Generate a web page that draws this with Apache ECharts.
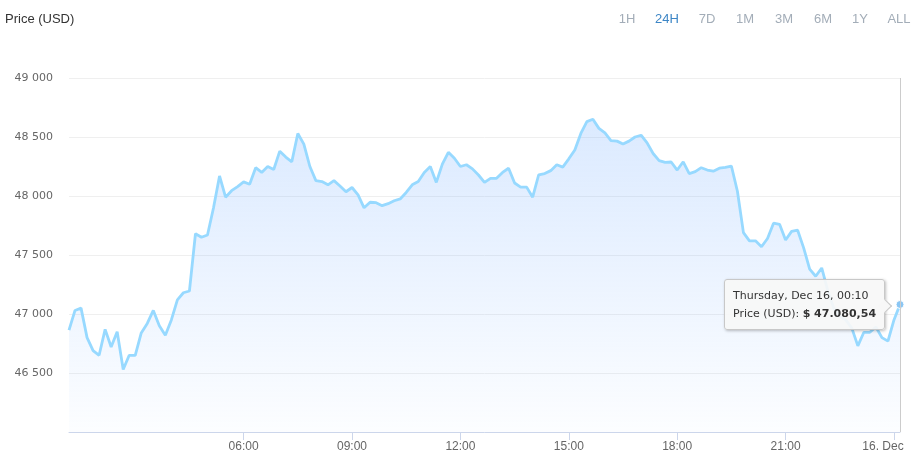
<!DOCTYPE html>
<html>
<head>
<meta charset="utf-8">
<title>Price (USD)</title>
<script src="https://cdn.jsdelivr.net/npm/echarts@6/dist/echarts.min.js"></script>
<style>
  html, body { margin: 0; padding: 0; background: #fff; }
  #chart { width: 917px; height: 471px; }
</style>
</head>
<body>
<div id="chart"></div>
<script>
// 10-minute prices, Dec 15 01:10 -> Dec 16 00:10
var startMinutes = 70
var stepMinutes = 10
var prices = [
  46864, 47030, 47050, 46800, 46690, 46650, 46870, 46720, 46850, 46530,
  46650, 46650, 46840, 46920, 47030, 46900, 46820, 46950, 47120, 47180,
  47195, 47680, 47650, 47670, 47900, 48170, 47990, 48045, 48080, 48120,
  48100, 48240, 48200, 48250, 48225, 48380, 48330, 48290, 48530, 48440,
  48250, 48130, 48122, 48095, 48130, 48085, 48036, 48072, 48010, 47900,
  47947, 47943, 47918, 47935, 47960, 47975, 48030, 48095, 48123, 48200,
  48250, 48115, 48270, 48370, 48320, 48250, 48265, 48230, 48178, 48115,
  48150, 48150, 48200, 48235, 48110, 48075, 48075, 47990, 48180, 48190,
  48215, 48265, 48245, 48315, 48390, 48530, 48630, 48650, 48573, 48535,
  48470, 48465, 48440, 48465, 48500, 48515, 48450, 48360, 48300, 48285,
  48288, 48220, 48290, 48190, 48206, 48240, 48220, 48210, 48236, 48243,
  48254, 48040, 47690, 47620, 47620, 47570, 47640, 47770, 47760, 47627,
  47700, 47710, 47560, 47380, 47320, 47390, 47200, 47050, 46980, 46950,
  46880, 46730, 46845, 46845, 46890, 46800, 46770, 46950, 47080.54
]
var tickLabels = ['06:00', '09:00', '12:00', '15:00', '18:00', '21:00', '00:00']
var rangeButtons = ['1H', '24H', '7D', '1M', '3M', '6M', '1Y', 'ALL']
var activeRange = '24H'

function pad (n) {
  return (n < 10 ? '0' : '') + n
}

var times = []
var days = []
for (var i = 0; i < prices.length; i++) {
  var m = startMinutes + i * stepMinutes
  times.push(pad(Math.floor(m / 60) % 24) + ':' + pad(m % 60))
  days.push(m >= 1440 ? 16 : 15)
}

function formatPrice (v) {
  var parts = v.toFixed(2).split('.')
  return parts[0].replace(/\B(?=(\d{3})+(?!\d))/g, '.') + ',' + parts[1]
}

var chart = echarts.init(document.getElementById('chart'))

var buttonX = [627, 667, 707, 745, 784, 823, 860, 899]
var graphics = [{
  type: 'text',
  x: 5,
  y: 19,
  style: { text: 'Price (USD)', fill: '#333', font: '13px "Liberation Sans", Arial, sans-serif', verticalAlign: 'middle' }
}]
rangeButtons.forEach(function (b, k) {
  graphics.push({
    type: 'text',
    x: buttonX[k],
    y: 19,
    style: {
      text: b,
      fill: b === activeRange ? '#3d86c6' : '#a3adb8',
      font: '13px "Liberation Sans", Arial, sans-serif',
      align: 'center',
      verticalAlign: 'middle'
    }
  })
})

chart.setOption({
  animation: false,
  graphic: graphics,
  grid: { left: 69, right: 17, top: 78, bottom: 39 },
  tooltip: {
    trigger: 'axis',
    triggerOn: 'none',
    alwaysShowContent: true,
    transitionDuration: 0,
    backgroundColor: 'rgba(247,247,247,0.92)',
    borderColor: '#c8c8c8',
    borderWidth: 1,
    padding: [7, 8, 6, 8],
    extraCssText: 'box-shadow: 1px 1px 3px rgba(0,0,0,0.25); border-radius: 3px; overflow: visible;',
    textStyle: { fontFamily: '"DejaVu Sans", Verdana, sans-serif', fontSize: 11, color: '#333' },
    axisPointer: {
      type: 'line',
      lineStyle: { color: '#cccccc', width: 1, type: 'solid' },
      label: { show: false }
    },
    position: function () {
      return [724, 279]
    },
    formatter: function (params) {
      var p = params[0]
      var idx = p.dataIndex
      return '<div style="position:relative;line-height:18px;">' +
        'Thursday, Dec ' + days[idx] + ', ' + times[idx] + '<br>' +
        'Price (USD): <b>$ ' + formatPrice(p.value) + '</b>' +
        '<div style="position:absolute;right:-14px;top:14px;width:9px;height:9px;' +
        'background:#f7f7f7;border-top:1px solid #c8c8c8;border-right:1px solid #c8c8c8;' +
        'transform:rotate(45deg);"></div></div>'
    }
  },
  xAxis: {
    type: 'category',
    boundaryGap: false,
    data: times,
    axisLine: { lineStyle: { color: '#ccd6eb' } },
    axisTick: {
      length: 8,
      lineStyle: { color: '#ccd6eb' },
      interval: function (idx, val) { return tickLabels.indexOf(val) >= 0 }
    },
    axisLabel: {
      color: '#666',
      fontSize: 12,
      fontFamily: '"Liberation Sans", Arial, sans-serif',
      margin: 9,
      interval: function (idx, val) { return tickLabels.indexOf(val) >= 0 },
      formatter: function (val) {
        return val === '00:00' ? '{d|16. Dec}' : val
      },
      rich: {
        d: { color: '#666', fontSize: 12, fontFamily: '"Liberation Sans", Arial, sans-serif', padding: [0, 22, 0, 0] }
      }
    }
  },
  yAxis: {
    type: 'value',
    min: 46000,
    max: 49000,
    interval: 500,
    axisLine: { show: false },
    axisTick: { show: false },
    splitLine: { lineStyle: { color: '#efefef' } },
    axisLabel: {
      color: '#666',
      fontSize: 11,
      fontFamily: '"DejaVu Sans", Verdana, sans-serif',
      margin: 16,
      padding: [0, 0, 9, 0],
      formatter: function (v) {
        if (v === 46000) return ''
        return String(v).replace(/\B(?=(\d{3})+(?!\d))/g, ' ')
      }
    }
  },
  series: [{
    name: 'Price (USD)',
    type: 'line',
    data: prices,
    showSymbol: false,
    symbol: 'circle',
    symbolSize: 8,
    lineStyle: { color: '#8ac6f4', width: 2.8 },
    itemStyle: { color: '#8ac6f4', borderColor: '#fff', borderWidth: 1 },
    areaStyle: {
      color: new echarts.graphic.LinearGradient(0, 0, 0, 1, [
        { offset: 0, color: 'rgba(110,160,238,0.38)' },
        { offset: 1, color: 'rgba(110,160,238,0.03)' }
      ])
    },
    emphasis: { disabled: false, scale: false }
  }]
})

chart.dispatchAction({ type: 'showTip', seriesIndex: 0, dataIndex: prices.length - 1 })
</script>
</body>
</html>
